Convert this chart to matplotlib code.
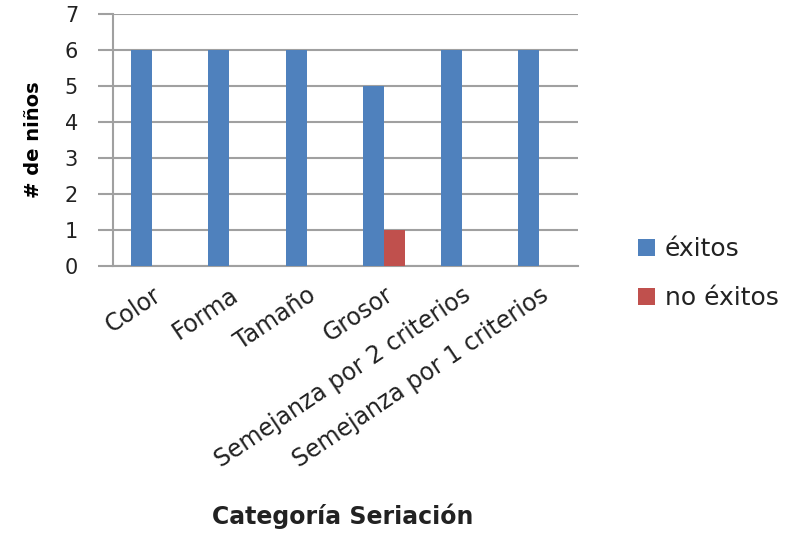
import numpy as np
import matplotlib
matplotlib.use("Agg")
import matplotlib.pyplot as plt

categories = ["Color", "Forma", "Tamaño", "Grosor",
              "Semejanza por 2 criterios", "Semejanza por 1 criterios"]
exitos = [6, 6, 6, 5, 6, 6]
no_exitos = [0, 0, 0, 1, 0, 0]
y_ticks = [0, 1, 2, 3, 4, 5, 6, 7]

BLUE = "#4F81BD"
RED = "#C0504D"
GRID = "#A0A0A0"
TEXT = "#222222"

plt.rcParams["font.family"] = ["DejaVu Sans"]

fig = plt.figure(figsize=(8.06, 5.33), dpi=100)
ax = fig.add_axes([0.140, 0.501, 0.577, 0.473])

x = np.arange(len(categories))
w = 0.27
ax.bar(x - w / 2, exitos, width=w, color=BLUE, label="éxitos", zorder=3)
ax.bar(x + w / 2, no_exitos, width=w, color=RED, label="no éxitos", zorder=3)

ax.set_xlim(-0.5, len(categories) - 0.5)
ax.set_ylim(0, 7)
ax.set_yticks(y_ticks)
ax.yaxis.grid(True, color=GRID, linewidth=1.5, zorder=0)
ax.tick_params(axis="y", length=11, width=1.5, color=GRID, labelsize=15,
               labelcolor=TEXT, pad=14)
ax.tick_params(axis="x", length=0, labelsize=17, labelcolor=TEXT, pad=12)

for side in ["top", "right"]:
    ax.spines[side].set_visible(False)
ax.spines["left"].set_color(GRID)
ax.spines["left"].set_linewidth(1.5)
ax.spines["bottom"].set_color(GRID)
ax.spines["bottom"].set_linewidth(1.5)

ax.set_xticks(x)
ax.set_xticklabels(categories, rotation=34, ha="right", rotation_mode="anchor")

ax.set_ylabel("# de niños", fontsize=14, fontweight="bold", labelpad=16)
fig.text(0.425, 0.032, "Categoría Seriación", fontsize=17, fontweight="bold",
         ha="center", va="center", color=TEXT)

ax.legend(loc="center left", bbox_to_anchor=(1.08, -0.03), frameon=False,
          fontsize=18, handlelength=0.7, handleheight=0.7,
          labelspacing=1.0, handletextpad=0.4, labelcolor=TEXT)

fig.savefig("out.png", dpi=100)
